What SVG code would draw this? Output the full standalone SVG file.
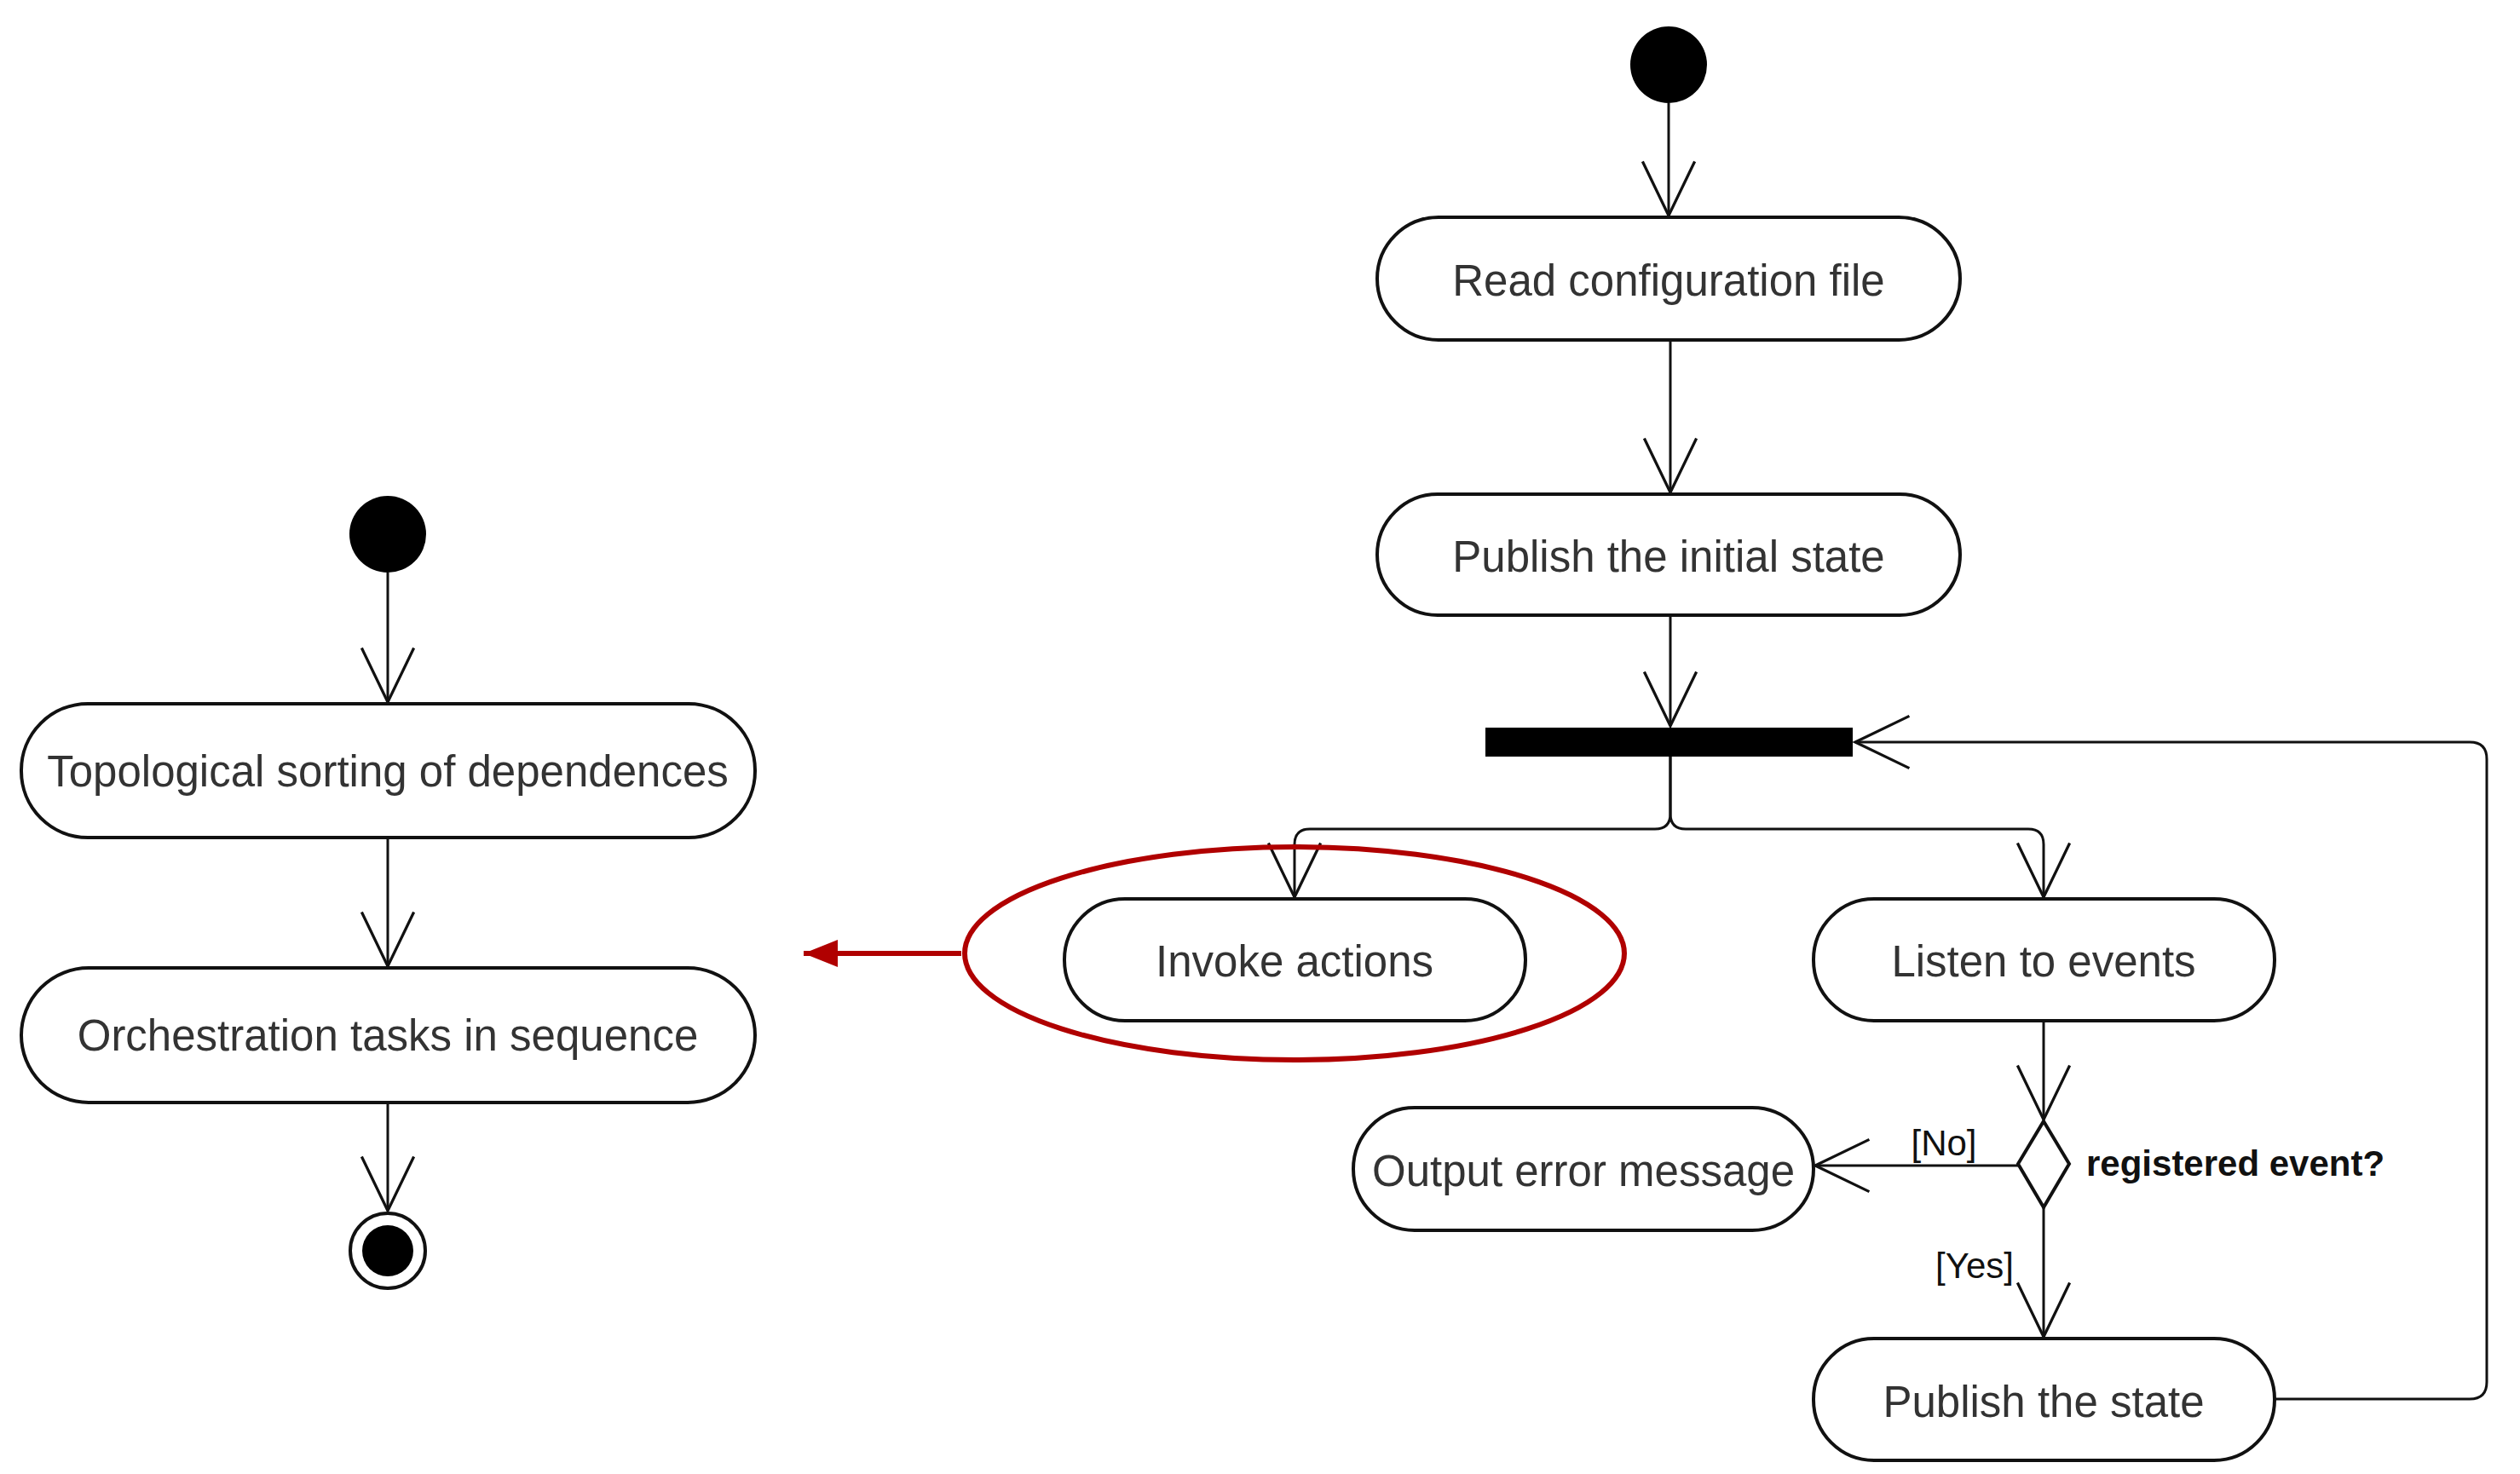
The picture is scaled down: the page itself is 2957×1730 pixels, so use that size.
<svg xmlns="http://www.w3.org/2000/svg" width="2957" height="1730" viewBox="0 0 2957 1730">
<style>
.box{fill:#fff;stroke:#111;stroke-width:4}
.t{font-family:"Liberation Sans",Arial,sans-serif;font-size:51px;fill:#333;text-anchor:middle;dominant-baseline:central}
.c{fill:none;stroke:#111;stroke-width:3;marker-end:url(#v)}
.l{font-family:"Liberation Sans",Arial,sans-serif;font-size:42px;fill:#111}
</style>
<defs>
<marker id="v" markerUnits="userSpaceOnUse" markerWidth="70" markerHeight="70" viewBox="-2 -2 64 64" refX="58" refY="28" orient="auto">
<path d="M0,0 L58,28 L0,56" fill="none" stroke="#111" stroke-width="3"/>
</marker>
<marker id="r" markerUnits="userSpaceOnUse" markerWidth="40" markerHeight="40" viewBox="0 0 30 24" refX="30" refY="12" orient="auto">
<path d="M0,0 L30,12 L0,24 Z" fill="#b00000"/>
</marker>
</defs>
<rect width="2957" height="1730" fill="#fff"/>
<g id="connectors">
<path class="c" d="M1958,121 V253"/>
<path class="c" d="M1960,399 V578"/>
<path class="c" d="M1960,722 V852"/>
<path class="c" d="M1960,888 V955 Q1960,973 1942,973 H1537 Q1519,973 1519,991 V1053"/>
<path class="c" d="M1960,888 V955 Q1960,973 1978,973 H2380 Q2398,973 2398,991 V1053"/>
<path class="c" d="M2398,1198 V1314"/>
<path class="c" d="M2368,1368 H2130"/>
<path class="c" d="M2398,1417 V1569"/>
<path class="c" d="M2669,1642 H2898 Q2918,1642 2918,1622 V891 Q2918,871 2898,871 H2177"/>
<path class="c" d="M455,672 V824"/>
<path class="c" d="M455,983 V1134"/>
<path class="c" d="M455,1294 V1421"/>
<path d="M1128,1119 H943" fill="none" stroke="#b00000" stroke-width="6" marker-end="url(#r)"/>
<text class="l" x="2281" y="1356" text-anchor="middle">[No]</text>
<text class="l" x="2317" y="1500" text-anchor="middle">[Yes]</text>
</g>
<g id="start1"><circle cx="1958" cy="76" r="45" fill="#000"/></g>
<g id="read"><rect class="box" x="1616" y="255" width="684" height="144" rx="72"/><text class="t" x="1958" y="329">Read configuration file</text></g>
<g id="pubinit"><rect class="box" x="1616" y="580" width="684" height="142" rx="71"/><text class="t" x="1958" y="653">Publish the initial state</text></g>
<g id="fork"><rect x="1743" y="854" width="431" height="34" fill="#000"/></g>
<g id="invoke"><rect class="box" x="1249" y="1055" width="541" height="143" rx="71"/><text class="t" x="1519" y="1128">Invoke actions</text>
<ellipse cx="1519" cy="1119" rx="387" ry="125" fill="none" stroke="#b00000" stroke-width="6"/></g>
<g id="listen"><rect class="box" x="2128" y="1055" width="541" height="143" rx="71"/><text class="t" x="2398" y="1128">Listen to events</text></g>
<g id="decision"><path d="M2398,1316 L2428,1366 L2398,1417 L2368,1366 Z" class="box"/><text class="l" x="2448" y="1380" font-weight="bold">registered event?</text></g>
<g id="error"><rect class="box" x="1588" y="1300" width="540" height="144" rx="72"/><text class="t" x="1858" y="1374">Output error message</text></g>
<g id="pubstate"><rect class="box" x="2128" y="1571" width="541" height="143" rx="71"/><text class="t" x="2398" y="1645">Publish the state</text></g>
<g id="start2"><circle cx="455" cy="627" r="45" fill="#000"/></g>
<g id="topo"><rect class="box" x="25" y="826" width="861" height="157" rx="78"/><text class="t" x="455" y="905">Topological sorting of dependences</text></g>
<g id="orch"><rect class="box" x="25" y="1136" width="861" height="158" rx="79"/><text class="t" x="455" y="1215">Orchestration tasks in sequence</text></g>
<g id="end"><circle cx="455" cy="1468" r="44" fill="#fff" stroke="#111" stroke-width="4"/><circle cx="455" cy="1468" r="30" fill="#000"/></g>
</svg>
